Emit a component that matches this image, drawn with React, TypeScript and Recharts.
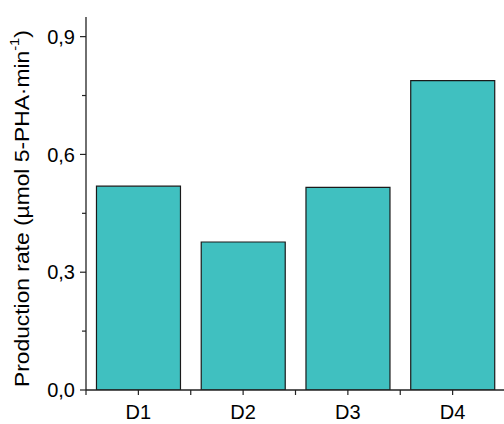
import React from 'react';
import { BarChart, Bar, XAxis, YAxis, Label } from 'recharts';

const categories = ['D1', 'D2', 'D3', 'D4'];
const rates = [0.519, 0.377, 0.516, 0.788];
const yTicks = [0, 0.15, 0.3, 0.45, 0.6, 0.75, 0.9];
const yMajor = [0, 0.3, 0.6, 0.9];

const data = categories.map((name, i) => ({ name, rate: rates[i] }));

const FONT = '"Liberation Sans", Arial, sans-serif';
const AXIS = '#222';

const BottomTick = (props: any) => {
  const { x, y, payload, index } = props;
  const off = payload?.offset ?? 52.4;
  return (
    <g>
      <line x1={x} x2={x} y1={y} y2={y + 5} stroke={AXIS} strokeWidth={1.2} />
      <line x1={x - off} x2={x - off} y1={y} y2={y + 5} stroke={AXIS} strokeWidth={1.2} />
      {index === categories.length - 1 && (
        <line x1={x + off} x2={x + off} y1={y} y2={y + 5} stroke={AXIS} strokeWidth={1.2} />
      )}
      <text x={x} y={y + 29} textAnchor="middle" fontSize={20} fontFamily={FONT} fill="#000">
        {payload.value}
      </text>
    </g>
  );
};

const TopTick = (props: any) => {
  const { x, y, payload } = props;
  const off = payload?.offset ?? 52.4;
  return (
    <g>
      <line x1={x} x2={x} y1={y} y2={y + 5} stroke={AXIS} strokeWidth={1.2} />
      <line x1={x - off} x2={x - off} y1={y} y2={y + 5} stroke={AXIS} strokeWidth={1.2} />
    </g>
  );
};

const LeftTick = (props: any) => {
  const { x, y, payload } = props;
  const major = yMajor.some((v) => Math.abs(v - payload.value) < 1e-6);
  const len = major ? 6 : 4;
  return (
    <g>
      <line x1={x - len} x2={x} y1={y} y2={y} stroke={AXIS} strokeWidth={1.2} />
      {major && (
        <text x={x - 11} y={y} dy="0.36em" textAnchor="end" fontSize={20} fontFamily={FONT} fill="#000">
          {payload.value.toFixed(1).replace('.', ',')}
        </text>
      )}
    </g>
  );
};

const YLabelContent = (props: any) => {
  const vb = props.viewBox || { y: 17, height: 373 };
  const cx = 22;
  const cy = vb.y + vb.height / 2 + 5;
  return (
    <text
      x={0}
      y={0}
      transform={`translate(${cx}, ${cy}) rotate(-90) scale(1.14, 1)`}
      textAnchor="middle"
      dominantBaseline="central"
      fontSize={20}
      fontFamily={FONT}
      fill="#000"
    >
      Production rate (µmol 5-PHA·min
      <tspan dy={-8} fontSize={13}>-1</tspan>
      <tspan dy={8}>)</tspan>
    </text>
  );
};

export default function App() {
  return (
    <div style={{ position: 'absolute', left: 0, top: 0, width: 504, height: 424, overflow: 'hidden', background: '#fff' }}>
      <BarChart
        width={520}
        height={424}
        data={data}
        margin={{ top: 17, right: 15, left: 0, bottom: 0 }}
        barCategoryGap="10%"
      >
        <XAxis
          dataKey="name"
          height={34}
          tickSize={0}
          tickMargin={0}
          tickLine={false}
          axisLine={{ stroke: AXIS, strokeWidth: 1.3 }}
          tick={<BottomTick />}
          interval={0}
        />
        <XAxis
          xAxisId="top"
          dataKey="name"
          orientation="top"
          height={0}
          tickSize={0}
          tickMargin={0}
          tickLine={false}
          axisLine={{ stroke: AXIS, strokeWidth: 1.3 }}
          tick={<TopTick />}
          interval={0}
        />
        <YAxis
          width={86}
          domain={[0, 0.95]}
          ticks={yTicks}
          type="number"
          tickSize={0}
          tickMargin={0}
          tickLine={false}
          axisLine={{ stroke: AXIS, strokeWidth: 1.3 }}
          tick={<LeftTick />}
          interval={0}
          allowDataOverflow
        >
          <Label content={<YLabelContent />} />
        </YAxis>
        <Bar dataKey="rate" fill="#40C0C0" stroke="#1a1a1a" strokeWidth={1.2} isAnimationActive={false} />
      </BarChart>
    </div>
  );
}
